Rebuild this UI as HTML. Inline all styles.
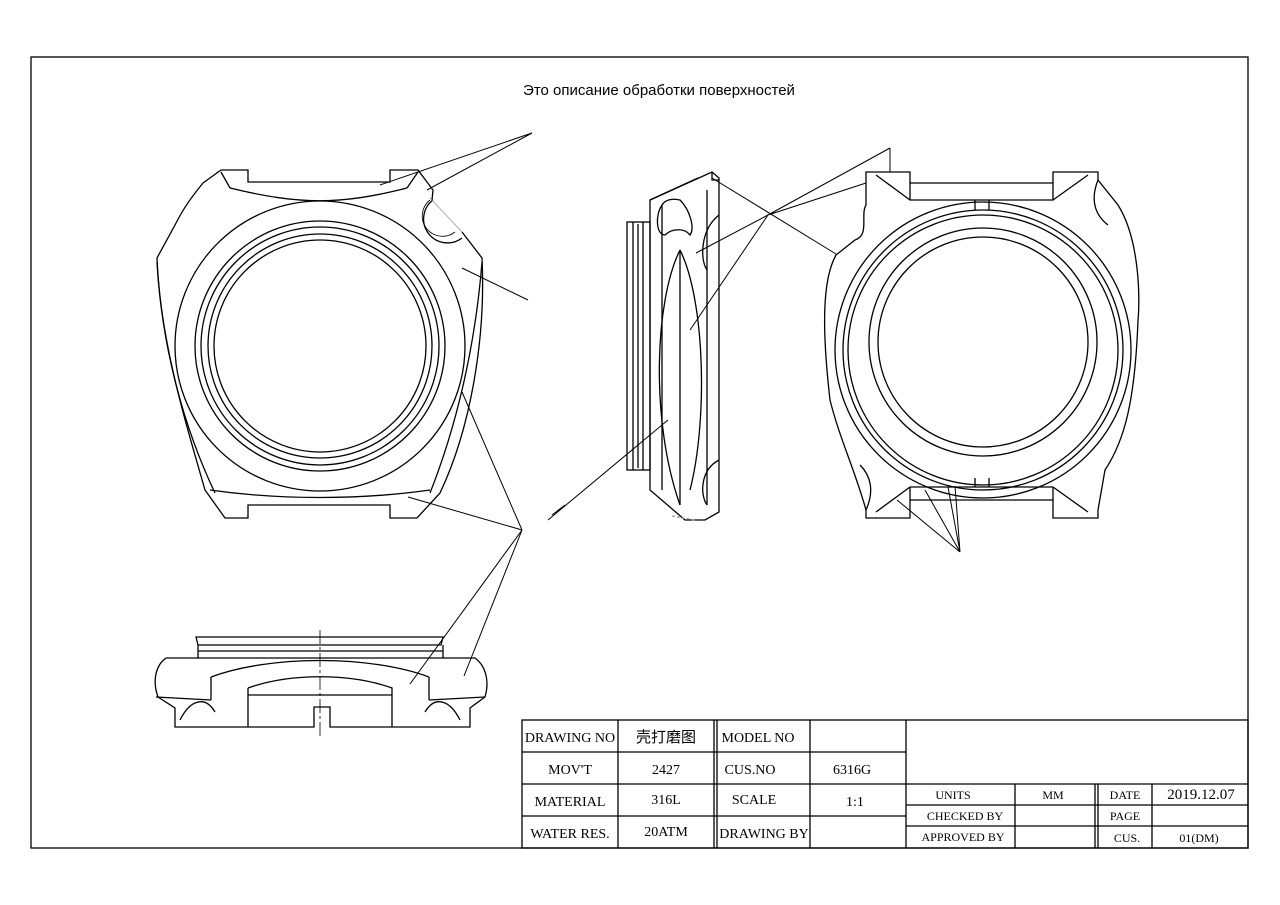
<!DOCTYPE html>
<html><head><meta charset="utf-8"><style>
html,body{margin:0;padding:0;background:#fff;}
svg{display:block;}
.tb{font-family:"Liberation Serif","Noto Serif CJK SC",serif;}
</style></head><body>
<svg width="1280" height="905" viewBox="0 0 1280 905" xmlns="http://www.w3.org/2000/svg">
<rect width="1280" height="905" fill="#fff"/>
<g fill="none" stroke="#000" stroke-width="1.3">
<rect x="31" y="57" width="1217" height="791"/>

<!-- LEFT FRONT VIEW -->
<path d="M203,183 L221,170 L248,170 L248,182 L390,182 L390,170 L418,170 L433,190 L432,200 M462,232 L482,258 C486,340 470,430 440,493 L417,518 L390,518 L390,505 L248,505 L248,518 L225,518 L205,490 C185,420 160,340 157,258 L175,225 C185,205 195,193 203,183"/>
<path d="M433,200 A22,22 0 0 0 462,238"/>
<path d="M430,200 A20,20 0 0 0 455,232" stroke-width="0.8"/>
<path d="M430,198 L462,232" stroke="#999" stroke-width="0.8"/>
<path d="M230,188 C300,205 340,205 407,188"/>
<path d="M221,172 L230,188 M418,172 L407,188"/>
<path d="M157,262 C162,350 185,430 215,493"/>
<path d="M482,262 C475,350 455,430 430,493"/>
<path d="M210,490 C280,500 360,500 430,490"/>
<circle cx="320" cy="346" r="145"/>
<circle cx="320" cy="346" r="125"/>
<circle cx="320" cy="346" r="119"/>
<circle cx="320" cy="346" r="112"/>
<circle cx="320" cy="346" r="106"/>

<!-- SIDE VIEW -->
<path d="M650,200 L712,172 L719,178 L719,512 L705,520 L685,520 L650,490 Z"/>
<path d="M650,200 L698,178 M712,172 L712,180 L719,180"/>
<path d="M662,205 L662,490 M680,250 L680,505 M707,190 L707,505"/>
<path d="M662,205 C655,215 656,235 665,235 C672,228 685,228 690,235 C695,228 690,210 680,200 C672,198 665,200 662,205"/>
<path d="M680,250 C655,300 650,420 680,505 M680,250 C705,300 708,420 690,490"/>
<path d="M719,215 C700,230 700,260 707,270 M719,460 C700,470 700,495 707,505"/>
<rect x="627" y="222" width="23" height="248"/>
<path d="M633,222 L633,470 M638,224 L638,468 M643,222 L643,470"/>
<path d="M672,516 L695,520" stroke="#999" stroke-dasharray="3,2"/>

<!-- RIGHT VIEW -->
<path d="M866,180 L866,172 L910,172 L910,183 L1053,183 L1053,172 L1098,172 L1098,180 L1118,205 C1140,240 1140,300 1138,320 C1135,400 1125,440 1105,470 L1098,510 L1098,518 L1053,518 L1053,500 L910,500 L910,518 L866,518 L866,510 C855,470 840,440 830,400 C822,330 822,280 836,255 L855,240 C870,235 860,215 866,205 Z"/>
<path d="M910,183 L910,200 L1053,200 L1053,183 M910,487 L1053,487 M910,487 L910,500 M1053,487 L1053,500"/>
<path d="M975,200 L975,210 M989,200 L989,210 M975,487 L975,478 M989,487 L989,478"/>
<path d="M876,175 L910,200 M1088,175 L1053,200 M876,512 L910,487 M1088,512 L1053,487"/>
<path d="M1098,180 C1090,200 1095,215 1108,225 M866,510 C875,490 870,475 860,465"/>
<circle cx="983" cy="350" r="148"/>
<circle cx="983" cy="350" r="140"/>
<circle cx="983" cy="350" r="135"/>
<circle cx="983" cy="342" r="114"/>
<circle cx="983" cy="342" r="105"/>

<!-- BOTTOM VIEW -->
<path d="M196,637 L443,637 L441,645 L198,645 Z"/>
<path d="M198,645 L198,658 M443,645 L443,658 M198,651 L443,651"/>
<path d="M166,658 L475,658 C485,665 490,680 485,697 L470,708 L470,727 L330,727 L330,707 L314,707 L314,727 L175,727 L175,708 L158,697 C152,680 156,665 166,658"/>
<path d="M211,677 C270,655 370,655 429,677 M211,677 L211,700 M429,677 L429,700 M248,688 C290,673 350,673 392,688 L392,695 L248,695 L248,727 M248,688 L248,695 M392,695 L392,727"/>
<path d="M156,697 L211,700 M485,697 L429,700"/>
<path d="M180,720 C190,700 205,695 215,712 M460,720 C450,700 435,695 425,712"/>
<path d="M320,630 L320,738" stroke-dasharray="14,3,3,3" stroke-width="0.8"/>

<!-- LEADERS -->
<g stroke-width="1">
<path d="M532,133 L380,185 M532,133 L427,190 M528,300 L462,268"/>
<path d="M522,530 L462,392 M522,530 L408,497 M522,530 L410,684 M522,530 L464,676 M548,520 L668,420 M552,515 L565,505"/>
<path d="M890,148 L890,172 M890,148 L768,215 L696,253 M866,183 L768,215 M768,215 L690,330 M712,178 L836,254"/>
<path d="M960,552 L897,500 M960,552 L925,490 M960,552 L948,487 M960,552 L955,486"/>
</g>

<!-- TITLE BLOCK -->
<rect x="522" y="720" width="726" height="128"/>
<path d="M522,752 H906 M522,784 H1248 M522,816 H906 M906,805 H1248 M906,826 H1248"/>
<path d="M618,720 V848 M714,720 V848 M717,720 V848 M810,720 V848 M906,720 V848 M1015,784 V848 M1095,784 V848 M1098,784 V848 M1152,784 V848"/>
</g>
<g class="tb" font-size="14" fill="#000" text-anchor="middle">
<text x="570" y="742">DRAWING NO</text>
<text x="666" y="742" style="font-family:'Noto Sans CJK SC',sans-serif" font-size="15">壳打磨图</text>
<text x="758" y="742">MODEL NO</text>
<text x="570" y="774">MOV'T</text>
<text x="666" y="774">2427</text>
<text x="750" y="774">CUS.NO</text>
<text x="852" y="774">6316G</text>
<text x="570" y="806">MATERIAL</text>
<text x="666" y="804">316L</text>
<text x="754" y="804">SCALE</text>
<text x="855" y="806">1:1</text>
<text x="570" y="838">WATER RES.</text>
<text x="666" y="836">20ATM</text>
<text x="764" y="838">DRAWING BY</text>
<g font-size="12">
<text x="953" y="799">UNITS</text>
<text x="1053" y="799">MM</text>
<text x="1125" y="799">DATE</text>
<text x="965" y="820">CHECKED BY</text>
<text x="1125" y="820">PAGE</text>
<text x="963" y="841">APPROVED BY</text>
<text x="1127" y="842">CUS.</text>
<text x="1199" y="842">01(DM)</text>
</g>
<text x="1201" y="799" font-size="15">2019.12.07</text>
</g>
<text x="659" y="95" style="font-family:'Liberation Sans',sans-serif" font-size="15" text-anchor="middle">Это описание обработки поверхностей</text>
</svg>
</body></html>
